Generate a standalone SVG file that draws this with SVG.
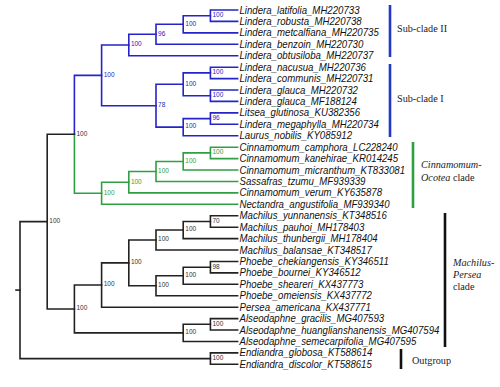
<svg xmlns="http://www.w3.org/2000/svg" width="500" height="387" viewBox="0 0 500 387">
<style>
.b{fill:none;stroke-width:1.6;stroke-linecap:square}
.k{stroke:#222}
.bl{stroke:#2424c8}
.gr{stroke:#2ea043}
.tip{font-family:"Liberation Sans",Arial,sans-serif;font-size:10.6px;font-style:italic;fill:#111}
.bs{font-family:"Liberation Sans",Arial,sans-serif;font-size:6.5px}
.bsk{fill:#333}
.bsb{fill:#2424c8}
.bsg{fill:#2ea043}
.bar{fill:none;stroke-width:2.6}
.cl{font-family:"Liberation Serif","Times New Roman",serif;font-size:10.2px;fill:#222}
</style>
<rect width="500" height="387" fill="#fff"/>
<g id="connectors">
<path class="b bl" d="M237.6,10 H210.4 V21.4 H237.6"/>
<path class="b bl" d="M210.4,15.7 H183.2 V32.9 H237.6"/>
<path class="b bl" d="M183.2,24.3 H156 V44.3 H237.6"/>
<path class="b bl" d="M156,34.3 H128.8 V55.7 H237.6"/>
<path class="b bl" d="M237.6,67.2 H210.4 V78.6 H237.6"/>
<path class="b bl" d="M237.6,90 H210.4 V101.4 H237.6"/>
<path class="b bl" d="M210.4,72.9 H183.2 V95.7 H210.4"/>
<path class="b bl" d="M237.6,112.9 H210.4 V124.3 H237.6"/>
<path class="b bl" d="M210.4,118.6 H183.2 V135.7 H237.6"/>
<path class="b bl" d="M183.2,84.3 H156 V127.15 H183.2"/>
<path class="b bl" d="M128.8,45 H101.6 V105.7 H156"/>
<path class="b bl" d="M101.6,75.35 H74.4 V134.3"/>
<path class="b gr" d="M74.4,134.3 V193.25 H101.6"/>
<path class="b gr" d="M237.6,147.2 H210.4 V158.6 H237.6"/>
<path class="b gr" d="M210.4,152.9 H183.2 V170 H237.6"/>
<path class="b gr" d="M183.2,161.45 H156 V181.45 H237.6"/>
<path class="b gr" d="M156,171.45 H128.8 V192.9 H237.6"/>
<path class="b gr" d="M128.8,182.2 H101.6 V204.3 H237.6"/>
<path class="b k" d="M237.6,215.7 H210.4 V227.2 H237.6"/>
<path class="b k" d="M210.4,221.45 H183.2 V238.6 H237.6"/>
<path class="b k" d="M183.2,230 H156 V250 H237.6"/>
<path class="b k" d="M237.6,261.5 H210.4 V272.9 H237.6"/>
<path class="b k" d="M210.4,267.2 H183.2 V284.3 H237.6"/>
<path class="b k" d="M183.2,275.75 H156 V295.75 H237.6"/>
<path class="b k" d="M156,240 H128.8 V285.75 H156"/>
<path class="b k" d="M128.8,262.9 H101.6 V307.2 H237.6"/>
<path class="b k" d="M237.6,318.6 H210.4 V330 H237.6"/>
<path class="b k" d="M210.4,324.3 H183.2 V341.5 H237.6"/>
<path class="b k" d="M101.6,285.05 H74.4 V332.9 H183.2"/>
<path class="b k" d="M74.4,134.3 H47.2 V309 H74.4"/>
<path class="b k" d="M237.6,352.9 H210.4 V364.3 H237.6"/>
<path class="b k" d="M47.2,221.65 H20 V358.6 H210.4"/>
<path class="b k" d="M16,290.1 H20"/>
</g>
<g id="support">
<text class="bs bsb" x="212.5" y="17">100</text>
<text class="bs bsb" x="185.3" y="25.6">100</text>
<text class="bs bsb" x="158.1" y="35.6">96</text>
<text class="bs bsb" x="130.9" y="46.3">100</text>
<text class="bs bsb" x="212.5" y="74.2">100</text>
<text class="bs bsb" x="212.5" y="97">100</text>
<text class="bs bsb" x="185.3" y="85.6">100</text>
<text class="bs bsb" x="212.5" y="119.9">96</text>
<text class="bs bsb" x="185.3" y="128.4">100</text>
<text class="bs bsb" x="158.1" y="107">78</text>
<text class="bs bsb" x="103.7" y="76.6">100</text>
<text class="bs bsk" x="76.5" y="135.6">100</text>
<text class="bs bsg" x="212.5" y="154.2">100</text>
<text class="bs bsg" x="185.3" y="162.7">100</text>
<text class="bs bsg" x="158.1" y="172.7">100</text>
<text class="bs bsg" x="130.9" y="183.5">100</text>
<text class="bs bsg" x="103.7" y="194.5">100</text>
<text class="bs bsk" x="212.5" y="222.7">70</text>
<text class="bs bsk" x="185.3" y="231.3">100</text>
<text class="bs bsk" x="158.1" y="241.3">100</text>
<text class="bs bsk" x="212.5" y="268.5">98</text>
<text class="bs bsk" x="185.3" y="277">100</text>
<text class="bs bsk" x="158.1" y="287">100</text>
<text class="bs bsk" x="130.9" y="264.2">100</text>
<text class="bs bsk" x="103.7" y="286.3">100</text>
<text class="bs bsk" x="212.5" y="325.6">100</text>
<text class="bs bsk" x="185.3" y="334.2">100</text>
<text class="bs bsk" x="76.5" y="310.3">100</text>
<text class="bs bsk" x="49.3" y="222.9">100</text>
<text class="bs bsk" x="212.5" y="359.9">100</text>
</g>
<g id="tips" transform="translate(239.5 0) scale(0.91 1)">
<text class="tip" x="0" y="13.6">Lindera_latifolia_MH220733</text>
<text class="tip" x="0" y="25">Lindera_robusta_MH220738</text>
<text class="tip" x="0" y="36.5">Lindera_metcalfiana_MH220735</text>
<text class="tip" x="0" y="47.9">Lindera_benzoin_MH220730</text>
<text class="tip" x="0" y="59.3">Lindera_obtusiloba_MH220737</text>
<text class="tip" x="0" y="70.8">Lindera_nacusua_MH220736</text>
<text class="tip" x="0" y="82.2">Lindera_communis_MH220731</text>
<text class="tip" x="0" y="93.6">Lindera_glauca_MH220732</text>
<text class="tip" x="0" y="105">Lindera_glauca_MF188124</text>
<text class="tip" x="0" y="116.5">Litsea_glutinosa_KU382356</text>
<text class="tip" x="0" y="127.9">Lindera_megaphylla_MH220734</text>
<text class="tip" x="0" y="139.3">Laurus_nobilis_KY085912</text>
<text class="tip" x="0" y="150.8">Cinnamomum_camphora_LC228240</text>
<text class="tip" x="0" y="162.2">Cinnamomum_kanehirae_KR014245</text>
<text class="tip" x="0" y="173.6">Cinnamomum_micranthum_KT833081</text>
<text class="tip" x="0" y="185.1">Sassafras_tzumu_MF939339</text>
<text class="tip" x="0" y="196.5">Cinnamomum_verum_KY635878</text>
<text class="tip" x="0" y="207.9">Nectandra_angustifolia_MF939340</text>
<text class="tip" x="0" y="219.3">Machilus_yunnanensis_KT348516</text>
<text class="tip" x="0" y="230.8">Machilus_pauhoi_MH178403</text>
<text class="tip" x="0" y="242.2">Machilus_thunbergii_MH178404</text>
<text class="tip" x="0" y="253.6">Machilus_balansae_KT348517</text>
<text class="tip" x="0" y="265.1">Phoebe_chekiangensis_KY346511</text>
<text class="tip" x="0" y="276.5">Phoebe_bournei_KY346512</text>
<text class="tip" x="0" y="287.9">Phoebe_sheareri_KX437773</text>
<text class="tip" x="0" y="299.4">Phoebe_omeiensis_KX437772</text>
<text class="tip" x="0" y="310.8">Persea_americana_KX437771</text>
<text class="tip" x="0" y="322.2">Alseodaphne_gracilis_MG407593</text>
<text class="tip" x="0" y="333.6">Alseodaphne_huanglianshanensis_MG407594</text>
<text class="tip" x="0" y="345.1">Alseodaphne_semecarpifolia_MG407595</text>
<text class="tip" x="0" y="356.5">Endiandra_globosa_KT588614</text>
<text class="tip" x="0" y="367.9">Endiandra_discolor_KT588615</text>
</g>
<g id="clade-subclade-II">
<path class="bar" stroke="#2438c8" d="M390,5 V57"/>
<text class="cl" x="397" y="31.5">Sub-clade II</text>
</g>
<g id="clade-subclade-I">
<path class="bar" stroke="#2438c8" d="M390,64 V137"/>
<text class="cl" x="397" y="101.5">Sub-clade I</text>
</g>
<g id="clade-cinnamomum-ocotea">
<path class="bar" stroke="#2ea043" d="M413,142 V208"/>
<text class="cl" x="421" y="167.5" font-style="italic">Cinnamomum-</text>
<text class="cl" x="421" y="180.5"><tspan font-style="italic">Ocotea</tspan> clade</text>
</g>
<g id="clade-machilus-persea">
<path class="bar" stroke="#111" d="M445,213 V347"/>
<text class="cl" x="453" y="265.5" font-style="italic">Machilus-</text>
<text class="cl" x="453" y="277.5" font-style="italic">Persea</text>
<text class="cl" x="453" y="289.5">clade</text>
</g>
<g id="clade-outgroup">
<path class="bar" stroke="#111" d="M401,349 V369"/>
<text class="cl" x="412" y="363.5">Outgroup</text>
</g>
</svg>
